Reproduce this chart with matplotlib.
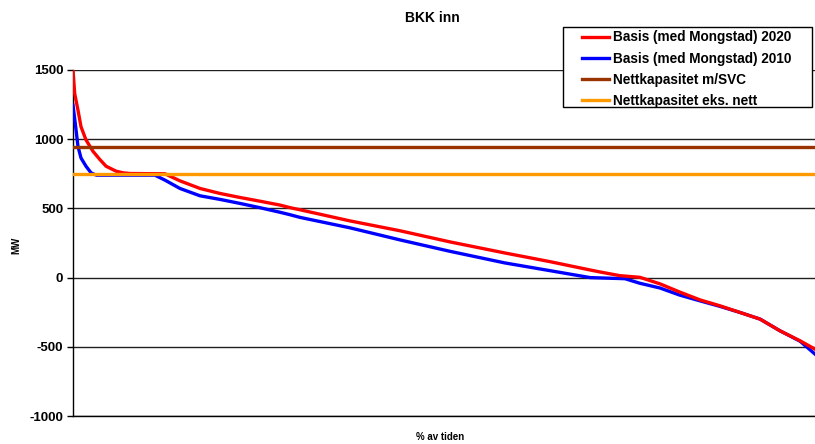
import numpy as np
import matplotlib
matplotlib.use("Agg")
import matplotlib.pyplot as plt
from matplotlib.patches import Rectangle

plt.rcParams['font.family'] = ['Liberation Sans', 'DejaVu Sans']
plt.rcParams['font.weight'] = 'bold'
plt.rcParams['axes.unicode_minus'] = False

# duration curves, x = % av tiden, y = MW
x_2020 = [0, 0.23, 0.67, 1.08, 1.75, 2.7, 3.64, 4.45, 5.8, 6.74, 7.7, 12.4,
          13.07, 14.42, 17.12, 19.81, 22.5, 25.2, 27.9, 29.2, 30.6, 37.3,
          44.1, 50.8, 58.2, 64.3, 69.7, 71.0, 73.7, 76.4, 79.1, 81.8, 84.5,
          87.2, 89.9, 92.6, 95.3, 98.0, 100]
y_2020 = [1500, 1329, 1210, 1090, 995, 912, 852, 805, 769, 757, 752, 750,
          733, 699, 644, 608, 579, 552, 524, 506, 490, 410,
          338, 258, 178, 115, 55, 41, 14, 2, -45, -105, -161,
          -204, -252, -300, -385, -457, -517]

x_2010 = [0, 0.36, 0.67, 1.08, 1.75, 2.43, 2.92, 3.2, 11.05, 12.4, 14.42,
          17.12, 19.81, 22.5, 25.2, 27.9, 29.2, 30.6, 37.3, 44.1, 50.8,
          58.2, 64.3, 69.7, 74.4, 76.4, 79.1, 81.8, 84.5, 87.2, 89.9, 92.6,
          95.3, 98.0, 100]
y_2010 = [1245, 1090, 948, 864, 805, 757, 745, 740, 740, 704, 644,
          591, 565, 536, 505, 472, 455, 435, 360, 272, 190,
          106, 50, 0, -8, -41, -75, -127, -168, -208, -252, -300,
          -385, -460, -553]

cap_svc = 945
cap_eks = 750

fig = plt.figure(figsize=(8.15, 4.44), dpi=100)
ax = fig.add_axes([73/815, 1-416/444, 742/815, (416-70)/444])

ax.plot(x_2020, y_2020, color='#ff0000', lw=2.4, label='Basis (med Mongstad) 2020', zorder=4)
ax.plot(x_2010, y_2010, color='#0000ff', lw=2.4, label='Basis (med Mongstad) 2010', zorder=3)
ax.axhline(cap_svc, color='#993300', lw=2.4, label='Nettkapasitet m/SVC', zorder=5)
ax.axhline(cap_eks, color='#ff9900', lw=2.4, label='Nettkapasitet eks. nett', zorder=5)

ax.set_xlim(0, 100)
ax.set_ylim(-1000, 1500)
ax.set_yticks([-1000, -500, 0, 500, 1000, 1500])
ax.set_xticks([])
ax.yaxis.grid(True, color='#202020', lw=1)
ax.set_axisbelow(True)
for s in ['top', 'right']:
    ax.spines[s].set_visible(False)
ax.spines['left'].set_linewidth(1)
ax.spines['bottom'].set_linewidth(1)
ax.tick_params(axis='y', length=4, width=1, labelsize=9.5, pad=3)
for t in ax.get_yticklabels():
    t.set_fontweight('bold')

fig.text(432/815, 1-18/444, 'BKK inn', ha='center', va='center', fontsize=10, fontweight='bold')
fig.text(16/815, 1-245/444, 'MW', rotation=90, ha='center', va='center', fontsize=7, fontweight='bold')
fig.text(440/815, 1-437/444, '% av tiden', ha='center', va='center', fontsize=7, fontweight='bold')

# legend frame drawn separately (Excel style box with wide padding)
frame = Rectangle((563/815, 1-107/444), 249/815, 80/444, transform=fig.transFigure,
                  facecolor='white', edgecolor='black', lw=1, zorder=10)
fig.patches.append(frame)

leg = fig.legend(loc='upper left', bbox_to_anchor=(582/815, 1-30.5/444), borderaxespad=0,
                 frameon=False, handlelength=2.0, handletextpad=0.3, borderpad=0,
                 labelspacing=0.52, prop={'weight': 'bold', 'size': 9.8})
leg.set_zorder(11)

fig.savefig('out.png', dpi=100)
